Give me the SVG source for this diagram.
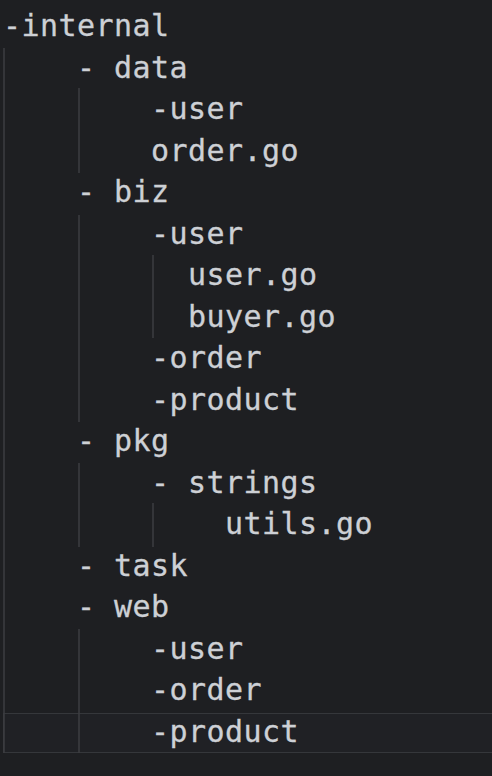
<svg xmlns="http://www.w3.org/2000/svg" width="492" height="776" viewBox="0 0 492 776">
<style>
.t{font-family:"DejaVu Sans Mono","Liberation Mono",monospace;font-size:30px;letter-spacing:0.45px;fill:#cdd0d5;stroke:#cdd0d5;stroke-width:0.3;white-space:pre}
.g{stroke:#3c3e42;stroke-width:1.5;fill:none}
</style>
<rect width="492" height="776" fill="#1e1f22"/>
<rect x="3.5" y="713.5" width="492" height="39" fill="#202125" stroke="#35373b" stroke-width="1"/>
<g id="connectors">
<line class="g" x1="4" y1="48" x2="4" y2="753"/>
<line class="g" x1="79" y1="88" x2="79" y2="173"/>
<line class="g" x1="79" y1="215" x2="79" y2="422"/>
<line class="g" x1="79" y1="463" x2="79" y2="547"/>
<line class="g" x1="79" y1="629" x2="79" y2="753"/>
<line class="g" x1="153" y1="255" x2="153" y2="338"/>
<line class="g" x1="153" y1="503" x2="153" y2="547"/>
</g>
<g id="internal"><text class="t" x="3" y="36">-internal</text></g>
<g id="data"><text class="t" x="77" y="77.5">- data</text></g>
<g id="data-user"><text class="t" x="151" y="119">-user</text></g>
<g id="data-order-go"><text class="t" x="151" y="160.5">order.go</text></g>
<g id="biz"><text class="t" x="77" y="202">- biz</text></g>
<g id="biz-user"><text class="t" x="151" y="243.5">-user</text></g>
<g id="biz-user-go"><text class="t" x="188" y="285">user.go</text></g>
<g id="biz-buyer-go"><text class="t" x="188" y="326.5">buyer.go</text></g>
<g id="biz-order"><text class="t" x="151" y="368">-order</text></g>
<g id="biz-product"><text class="t" x="151" y="409.5">-product</text></g>
<g id="pkg"><text class="t" x="77" y="451">- pkg</text></g>
<g id="pkg-strings"><text class="t" x="151" y="492.5">- strings</text></g>
<g id="pkg-utils-go"><text class="t" x="225" y="534">utils.go</text></g>
<g id="task"><text class="t" x="77" y="575.5">- task</text></g>
<g id="web"><text class="t" x="77" y="617">- web</text></g>
<g id="web-user"><text class="t" x="151" y="658.5">-user</text></g>
<g id="web-order"><text class="t" x="151" y="700">-order</text></g>
<g id="web-product"><text class="t" x="151" y="741.5">-product</text></g>
</svg>
